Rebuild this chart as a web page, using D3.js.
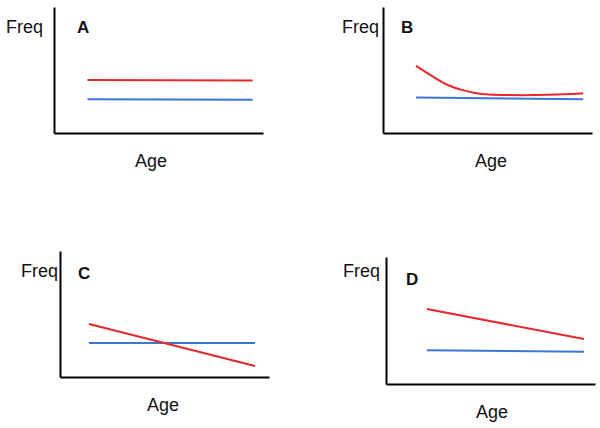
<!DOCTYPE html>
<html><head><meta charset="utf-8">
<script src="https://cdn.jsdelivr.net/npm/d3@7"></script>
<style>body{margin:0;background:#fff}svg{display:block}</style>
</head><body>
<script>
// Data (abstract units: Age 0-100, Freq 0-100)
const panelLabels = ["A", "B", "C", "D"];
const axisLabelX = "Age";
const axisLabelY = "Freq";
const redA = [[16, 42.1], [95, 41.7]];
const blueA = [[16, 26.8], [95, 26.4]];
const redB = [[15.8, 53.2], [20.1, 48.7], [26.5, 42.1], [31.2, 37.5], [37.7, 34.1], [44.0, 31.5], [50.4, 30.4], [58.4, 30.1], [71.9, 29.9], [87.9, 30.7], [95.8, 31.5]];
const blueB = [[15.8, 28.2], [95.8, 26.7]];
const redC = [[13.9, 42.1], [93.3, 8.7]];
const blueC = [[13.9, 27.0], [93.3, 27.0]];
const redD = [[19.6, 59.1], [94.7, 35.4]];
const blueD = [[19.6, 26.5], [94.7, 25.4]];

const panels = [
  {label: panelLabels[0], red: redA, blue: blueA, box: [54, 7, 263, 133], freq: [6, 33], lab: [77, 33], age: [151, 167]},
  {label: panelLabels[1], red: redB, blue: blueB, box: [383, 7, 592, 133], freq: [342, 33], lab: [401, 33], age: [491, 167]},
  {label: panelLabels[2], red: redC, blue: blueC, box: [60, 251, 269, 377], freq: [21, 277], lab: [78, 279], age: [163, 411]},
  {label: panelLabels[3], red: redD, blue: blueD, box: [386, 257, 595, 384], freq: [343, 277], lab: [406, 285], age: [492, 418]}
];

const svg = d3.select("body").append("svg").attr("width", 600).attr("height", 428);
const font = "'Liberation Sans', Arial, sans-serif";

panels.forEach(p => {
  const [l, t, r, b] = p.box;
  const x = d3.scaleLinear().domain([0, 100]).range([l, r]);
  const y = d3.scaleLinear().domain([0, 100]).range([b, t]);
  const g = svg.append("g");
  const ax = g.append("g").attr("transform", `translate(0,${b})`)
    .call(d3.axisBottom(x).tickValues([]).tickSizeOuter(0));
  const ay = g.append("g").attr("transform", `translate(${l},0)`)
    .call(d3.axisLeft(y).tickValues([]).tickSizeOuter(0));
  [ax, ay].forEach(a => a.select(".domain").attr("stroke", "#000").attr("stroke-width", 2));

  const line = d3.line().x(d => x(d[0])).y(d => y(d[1]));
  g.append("path").datum(p.blue).attr("d", line)
    .attr("fill", "none").attr("stroke", "#3b78d6").attr("stroke-width", 2);
  g.append("path").datum(p.red).attr("d", line.curve(d3.curveBasis))
    .attr("fill", "none").attr("stroke", "#e8262b").attr("stroke-width", 2);

  g.append("text").attr("x", p.freq[0]).attr("y", p.freq[1]).text(axisLabelY)
    .attr("font-family", font).attr("font-size", 18).attr("fill", "#111");
  g.append("text").attr("x", p.lab[0]).attr("y", p.lab[1]).text(p.label)
    .attr("font-family", font).attr("font-size", 17).attr("font-weight", "bold").attr("fill", "#111");
  g.append("text").attr("x", p.age[0]).attr("y", p.age[1]).text(axisLabelX)
    .attr("text-anchor", "middle")
    .attr("font-family", font).attr("font-size", 18).attr("fill", "#111");
});
</script>
</body></html>
